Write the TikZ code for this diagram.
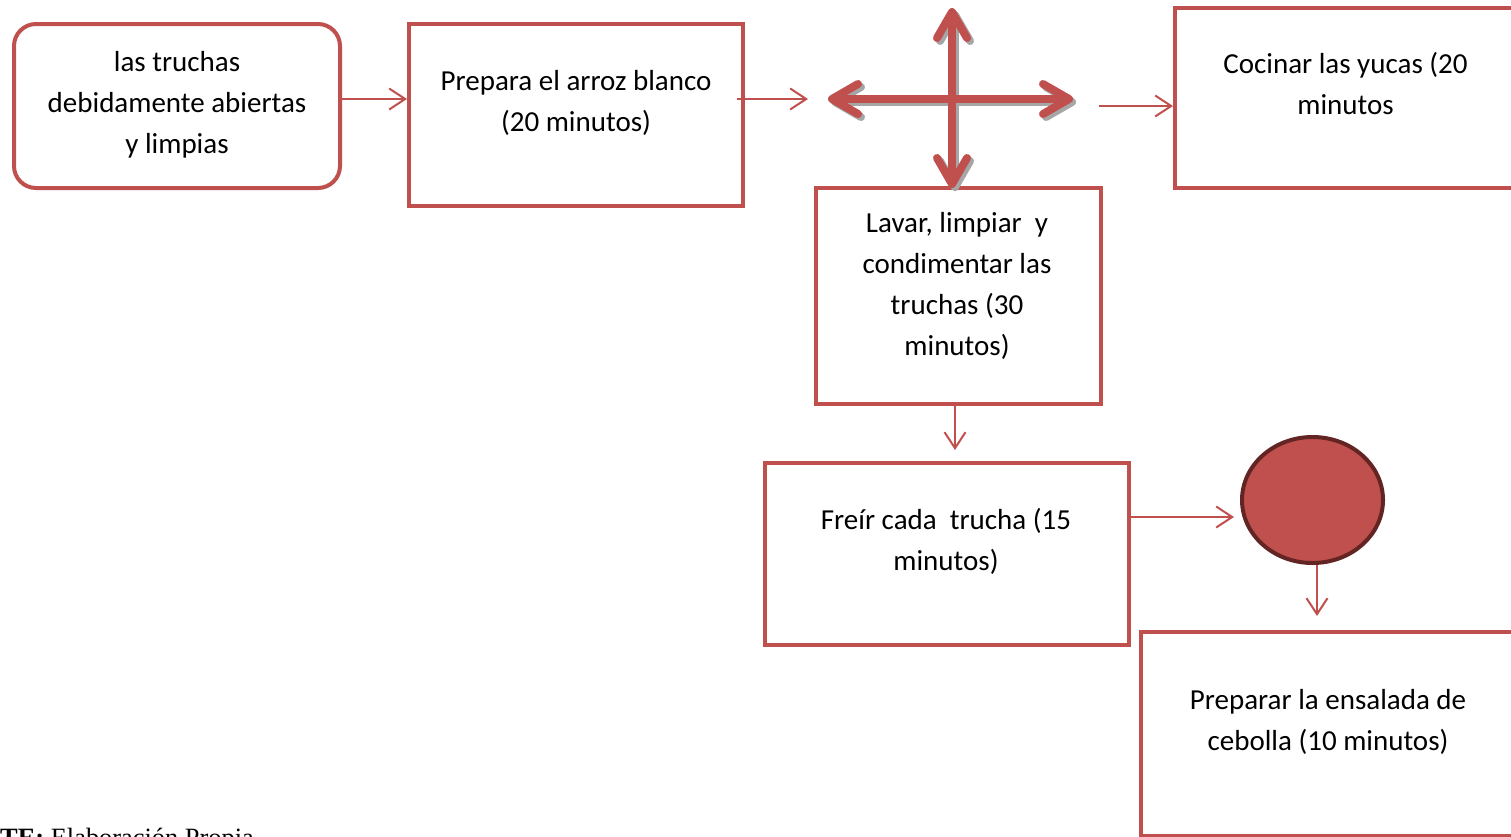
\documentclass[tikz,border=0pt]{standalone}
\usepackage{fontspec}
\setmainfont{Carlito}
\newfontfamily\timesf{Liberation Serif}
\usetikzlibrary{arrows.meta,shapes.geometric}

\definecolor{accent}{HTML}{C0504D}
\definecolor{accentdark}{HTML}{632523}
\definecolor{shadowgray}{HTML}{A6A6A6}

\tikzset{
  stepbox/.style={draw=accent, line width=4pt, fill=white, inner sep=0pt, rectangle},
  roundbox/.style={stepbox, rounded corners=22pt},
  label/.style={align=center, inner sep=0pt, font=\fontsize{29}{41}\selectfont},
  conn/.style={draw=accent, line width=2pt, -{Straight Barb[length=16pt,width=21pt]}},
  bigarrow/.style={line width=8pt, {Straight Barb[length=26pt,width=30pt,round]}-{Straight Barb[length=26pt,width=30pt,round]}},
}

\begin{document}
\begin{tikzpicture}[x=1pt,y=-1pt]
\clip (0,0) rectangle (1511,836);

% process boxes
\node[roundbox, minimum width=326pt, minimum height=164pt] (start) at (177,106) {};
\node[stepbox, minimum width=334pt, minimum height=182pt] (rice) at (576,115) {};
\node[stepbox, minimum width=345pt, minimum height=180pt] (cook) at (1347.5,98) {};
\node[stepbox, minimum width=285pt, minimum height=216pt] (wash) at (958.5,296) {};
\node[stepbox, minimum width=364pt, minimum height=182pt] (fry) at (947,554) {};
\node[stepbox, minimum width=379pt, minimum height=204pt] (salad) at (1330.5,734) {};
\node[ellipse, draw=accentdark, line width=4pt, fill=accent, inner sep=0pt,
      minimum width=141pt, minimum height=126pt] (dot) at (1312.5,500) {};

% box texts
\node[label] (tstart) at (177,104.5) {las truchas\\debidamente abiertas\\y limpias};
\node[label] (trice) at (576,103) {Prepara el arroz blanco\\(20 minutos)};
\node[label] (tcook) at (1345.5,84) {Cocinar las yucas (20\\minutos};
\node[label] (twash) at (957,285.5) {Lavar, limpiar\ \ y\\condimentar las\\truchas (30\\minutos)};
\node[label] (tfry) at (946,541) {Freír cada\ \ trucha (15\\minutos)};
\node[label] (tsalad) at (1328,721.5) {Preparar la ensalada de\\cebolla (10 minutos)};

% four-way cross with its drop shadow
\coordinate (cw) at (828,99);
\coordinate (ce) at (1073,99);
\coordinate (cn) at (952,8);
\coordinate (cs) at (952,188);
\draw[bigarrow, draw=shadowgray, color=shadowgray] ([shift={(3,3)}]cw) -- ([shift={(3,3)}]ce);
\draw[bigarrow, draw=shadowgray, color=shadowgray] ([shift={(3,3)}]cn) -- ([shift={(3,3)}]cs);
\draw[bigarrow, draw=accent, color=accent] (cw) -- (ce);
\draw[bigarrow, draw=accent, color=accent] (cn) -- (cs);

% connectors
\coordinate (riceout) at (737,99);
\coordinate (crossin) at (808,99);
\coordinate (crossout) at (1099,106);
\draw[conn] (start.east |- 0,99) -- (rice.west |- 0,99);
\draw[conn] (riceout) -- (crossin);
\draw[conn] (crossout) -- (cook.west |- crossout);
\draw[conn, shorten >=11pt] (wash.south -| 955,0) -- (fry.north -| 955,0);
\draw[conn, shorten >=6pt] (fry.east |- 0,517) -- (dot.west |- 0,517);
\draw[conn, shorten >=14pt] (dot.south -| 1317,0) -- (salad.north -| 1317,0);

% source line
\node[anchor=base west, inner sep=0pt, font=\timesf\fontsize{26.4}{30}\selectfont] (src) at (0,846) {\textbf{TE:} Elaboración Propia};
\end{tikzpicture}
\end{document}
